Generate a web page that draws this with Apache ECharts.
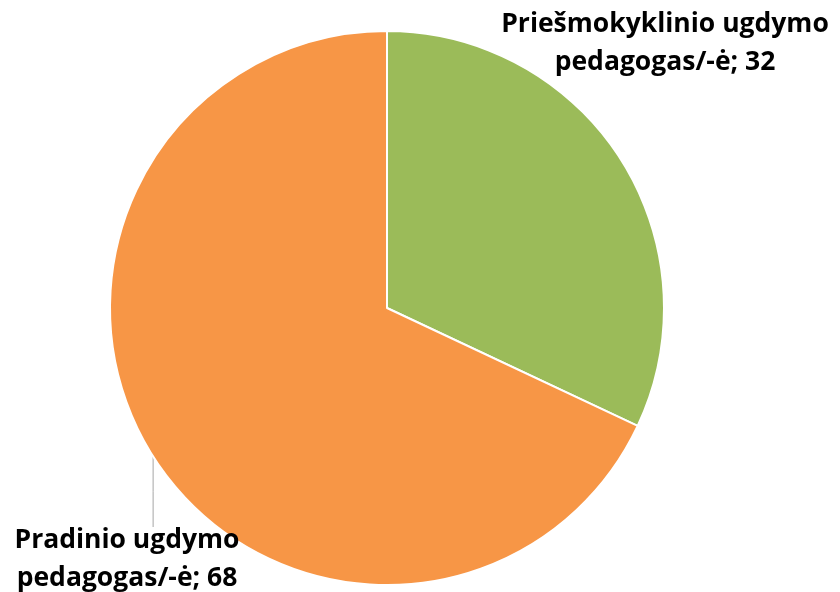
<!DOCTYPE html>
<html>
<head>
    <meta charset="utf-8">
    <title>Pedagogai</title>
    <script src="https://cdn.jsdelivr.net/npm/echarts@6/dist/echarts.min.js"></script>
    <style>
        html, body { margin: 0; padding: 0; background: #fff; }
        #container { width: 840px; height: 592px; }
    </style>
</head>
<body>
    <div id="container"></div>
    <script>
    // data
    var categories = ['Priešmokyklinio ugdymo pedagogas/-ė', 'Pradinio ugdymo pedagogas/-ė'];
    var labelLines = [['Priešmokyklinio ugdymo', 'pedagogas/-ė'], ['Pradinio ugdymo', 'pedagogas/-ė']];
    var values = [32, 68];
    var colors = ['#9BBB59', '#F79646'];

    // where each label box sits (top-centre)
    var labelPos = [[665, 5], [127, 521]];

    var chart = echarts.init(document.getElementById('container'));

    var data = [];
    for (var i = 0; i < values.length; i++) {
        data.push({
            name: categories[i],
            value: values[i],
            itemStyle: { color: colors[i] },
            labelLine: { show: i == 1 }
        });
    }

    var option = {
        animation: false,
        series: [{
            type: 'pie',
            center: [387, 308],
            radius: 277,
            startAngle: 90,
            clockwise: true,
            data: data,
            itemStyle: {
                borderColor: '#fff',
                borderWidth: 2
            },
            label: {
                show: true,
                position: 'outside',
                fontFamily: 'Open Sans',
                fontWeight: 'bold',
                fontSize: 26.5,
                lineHeight: 38,
                color: '#000',
                align: 'center',
                overflow: 'none',
                formatter: function (p) {
                    var l = labelLines[p.dataIndex];
                    return l[0] + '\n' + l[1] + '; ' + p.value;
                }
            },
            labelLine: {
                show: true,
                length: 10,
                length2: 10,
                lineStyle: { color: '#a6a6a6', width: 1 }
            },
            labelLayout: function (params) {
                var p = labelPos[params.dataIndex];
                var res = {
                    x: p[0],
                    y: p[1],
                    align: 'center',
                    verticalAlign: 'top'
                };
                // straight down from the slice edge to the label
                var pts = params.labelLinePoints;
                if (pts && pts.length) {
                    res.labelLinePoints = [
                        [pts[0][0], pts[0][1]],
                        [pts[0][0], (pts[0][1] + p[1] + 6) / 2],
                        [pts[0][0], p[1] + 6]
                    ];
                }
                return res;
            }
        }]
    };

    chart.setOption(option);
    </script>
</body>
</html>
